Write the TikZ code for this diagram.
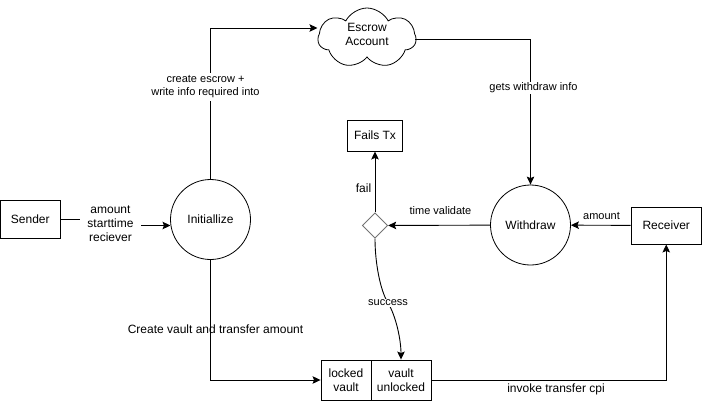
\documentclass[tikz,border=0pt]{standalone}
\usepackage{fontspec}
\setmainfont{Liberation Sans}
\usetikzlibrary{arrows.meta, shapes.geometric, shapes.symbols}
\tikzset{flowbox/.style={draw, line width=0.9, inner sep=0, align=center}}
\tikzset{stage/.style={draw, circle, line width=0.8, minimum size=80, inner sep=0}}
\tikzset{flow/.style={line width=0.9, -{Stealth[length=8, width=7.5, inset=1.5]}}}
\tikzset{tag/.style={inner sep=1, align=center, font=\fontsize{11}{13}\selectfont}}
\tikzset{bigtag/.style={inner sep=1, align=center, font=\fontsize{12}{14}\selectfont}}

\begin{document}
\begin{tikzpicture}[x=1pt, y=-1pt, font=\fontsize{12}{14}\selectfont]
            \useasboundingbox (0, 0) rectangle (702, 402);
            \node[flowbox, minimum width=60.5, minimum height=38] (sender) at (30.25, 219) {Sender};
            \node[stage] (init) at (210.5, 219.5) {Initiallize};
            \node[stage] (withdraw) at (530.5, 225) {Withdraw};
            \node[flowbox, minimum width=70.5, minimum height=37] (receiver) at (666.25, 225.5) {Receiver};
            \node[flowbox, minimum width=55, minimum height=31] (fails) at (375, 135.5) {Fails Tx};
            \node[draw=black!55, diamond, line width=0.9, minimum size=25.5, inner sep=0] (check) at (375, 225.5) {};
            \node[draw, cloud, cloud puffs=7, cloud puff arc=125, aspect=1.65, line width=0.8, minimum width=98, minimum height=60, inner sep=0, align=center] (escrow) at (367, 38) {Escrow\\Account\\[-6pt]\mbox{}};
            \node[flowbox, minimum width=50, minimum height=40] (locked) at (346, 380) {locked\\vault};
            \node[flowbox, minimum width=60, minimum height=40] (unlocked) at (401, 380) {vault\\unlocked};

            \coordinate (escrowin) at (317.5, 28);
            \coordinate (escrowout) at (415, 39);
            \coordinate (paramsin) at (110, 219);
            \coordinate (paramsout) at (110, 225.5);
            \coordinate (initin) at (170.5, 225.5);
            \coordinate (corner1) at (init.north |- escrowin);
            \coordinate (corner2) at (withdraw.north |- escrowout);
            \coordinate (corner3) at (init.south |- locked.west);
            \coordinate (corner4) at (receiver.south |- unlocked.east);

            \draw[flow] (sender) -- (paramsin) -- (paramsout) -- (initin);
            \node[bigtag, fill=white, minimum width=61] (params) at (110.5, 224) {amount\\starttime\\reciever};
            \draw[flow] (init) -- (corner1) -- (escrowin);
            \node[tag, fill=white, minimum height=28] (createlabel) at (205.5, 86.5) {create escrow +\\write info required into};
            \draw[flow] (escrowout) -- (corner2) -- (withdraw);
            \node[tag, fill=white] (infolabel) at (533.5, 88) {gets withdraw info};
            \draw[flow] (withdraw) -- (check);
            \node[tag] (timelabel) at (440.5, 211) {time validate};
            \draw[flow] (check) -- (fails);
            \node[bigtag] (faillabel) at (363.5, 188) {fail};
            \draw[flow] (receiver) -- (withdraw);
            \node[tag] (amountlabel) at (601.5, 216) {amount};
            \draw[flow] (check.south) .. controls (375, 262) and (380, 290) .. (388, 303) .. controls (396, 316) and (401, 340) .. (unlocked.north);
            \node[tag, fill=white] (successlabel) at (388, 303) {success};
            \draw[flow] (init) -- (corner3) -- (locked);
            \node[bigtag] (vaultlabel) at (215.5, 329) {Create vault and transfer amount};
            \draw[flow] (unlocked) -- (corner4) -- (receiver);
            \node[bigtag] (cpilabel) at (556, 389) {invoke transfer cpi};
        \end{tikzpicture}
\end{document}
